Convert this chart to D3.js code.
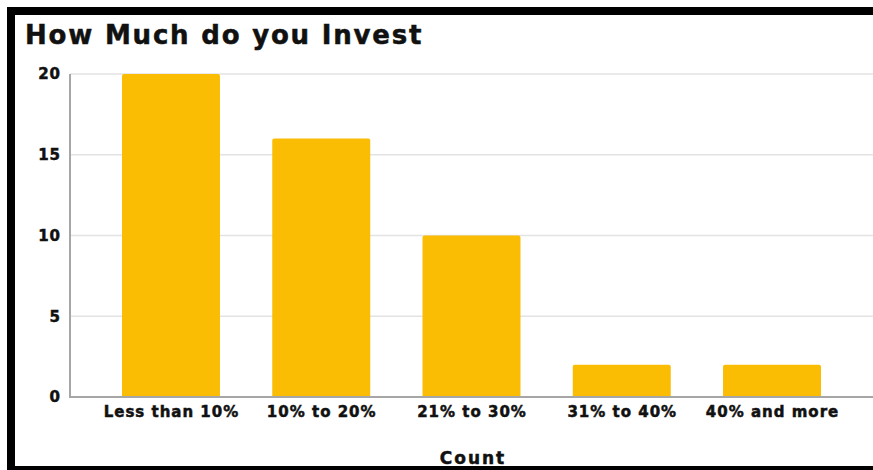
<!DOCTYPE html>
<html>
<head>
<meta charset="utf-8">
<script src="https://cdn.jsdelivr.net/npm/d3@7"></script>
<style>
  html, body { margin: 0; padding: 0; background: #fff; }
  svg { display: block; }
  text { font-family: "DejaVu Sans", "Liberation Sans", sans-serif; font-weight: bold; fill: #111; stroke: #111; stroke-width: 0.5px; }
</style>
</head>
<body>
<svg id="chart" width="873" height="470"></svg>
<script>
const categories = ["Less than 10%", "10% to 20%", "21% to 30%", "31% to 40%", "40% and more"];
const counts = [20, 16, 10, 2, 2];
const yTicks = [0, 5, 10, 15, 20];
const title = "How Much do you Invest";
const xTitle = "Count";

const W = 873, H = 470;
const svg = d3.select("#chart");

// frame
svg.append("path")
  .attr("d", `M${W + 10},11 L11,11 L11,${H + 10}`)
  .attr("fill", "none").attr("stroke", "#000").attr("stroke-width", 8);
svg.append("line")
  .attr("x1", 7).attr("x2", W + 10).attr("y1", 468.5).attr("y2", 468.5)
  .attr("stroke", "#000").attr("stroke-width", 5);

const x = d3.scaleBand().domain(categories).range([70, 873])
  .paddingInner(0.348).paddingOuter(0.346);
const y = d3.scaleLinear().domain([0, 20]).range([397, 74]);

// gridlines
svg.append("g").selectAll("line").data(yTicks.filter(d => d > 0)).join("line")
  .attr("x1", 70).attr("x2", W).attr("y1", d => y(d)).attr("y2", d => y(d))
  .attr("stroke", "#e3e3e3").attr("stroke-width", 1.5);

// bars
svg.append("g").selectAll("path").data(counts).join("path")
  .attr("fill", "#fbbc04")
  .attr("d", (d, i) => {
    const x0 = x(categories[i]), w = x.bandwidth(), y0 = y(d), y1 = y(0), r = 2;
    return `M${x0},${y1} L${x0},${y0 + r} Q${x0},${y0} ${x0 + r},${y0} L${x0 + w - r},${y0} Q${x0 + w},${y0} ${x0 + w},${y0 + r} L${x0 + w},${y1} Z`;
  });

// axes lines
svg.append("line").attr("x1", 70).attr("x2", 70).attr("y1", y(20)).attr("y2", y(0))
  .attr("stroke", "#a6a6a6").attr("stroke-width", 2);
svg.append("line").attr("x1", 69).attr("x2", W).attr("y1", y(0)).attr("y2", y(0))
  .attr("stroke", "#a6a6a6").attr("stroke-width", 2);

// y tick labels
svg.append("g").selectAll("text").data(yTicks).join("text")
  .attr("x", 61).attr("y", d => y(d)).attr("dy", "0.36em")
  .attr("text-anchor", "end").attr("font-size", 15).attr("letter-spacing", 1)
  .text(d => d);

// x labels
svg.append("g").selectAll("text").data(categories).join("text")
  .attr("x", d => x(d) + x.bandwidth() / 2 + 0.5).attr("y", 417)
  .attr("text-anchor", "middle").attr("font-size", 15).attr("letter-spacing", 1)
  .text(d => d);

// titles
svg.append("text").attr("x", 25).attr("y", 44).attr("font-size", 26).attr("letter-spacing", 1.8).text(title);
svg.append("text").attr("x", 473).attr("y", 464).attr("text-anchor", "middle")
  .attr("font-size", 17).attr("letter-spacing", 2).text(xTitle);
</script>
</body>
</html>
